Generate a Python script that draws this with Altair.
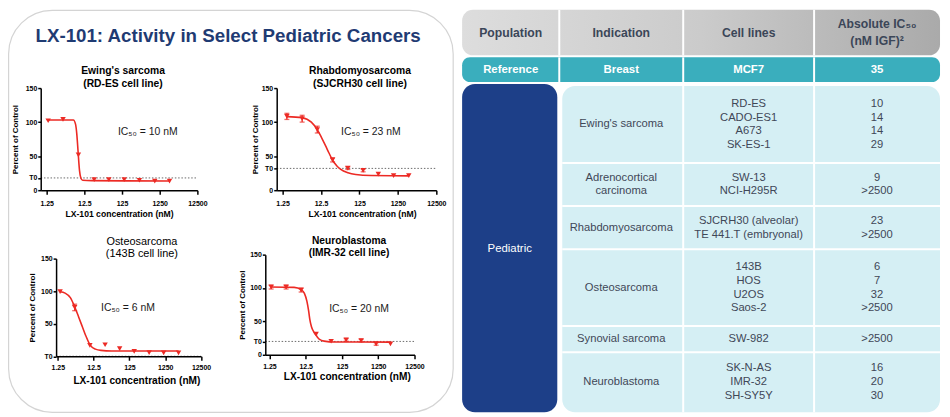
import altair as alt
import pandas as pd

# ---------------- values ----------------
x_tick_values = [1.25, 12.5, 125, 1250, 12500]
y_tick_values = [0, 50, 100, 150]

main_title = "LX-101: Activity in Select Pediatric Cancers"
x_axis_title = "LX-101 concentration (nM)"
y_axis_title = "Percent of Control"

panel_titles = ["Ewing's sarcoma", "Rhabdomyosarcoma", "Osteosarcoma", "Neuroblastoma"]
panel_cell_lines = ["(RD-ES cell line)", "(SJCRH30 cell line)", "(143B cell line)", "(IMR-32 cell line)"]
panel_ic50 = ["IC₅₀ = 10 nM", "IC₅₀ = 23 nM", "IC₅₀ = 6 nM", "IC₅₀ = 20 nM"]
panel_t0 = [18, 32, 0, 20]

ewing_conc = [1.37, 3.4, 8.7, 22.8, 56, 143, 361, 926, 2280]
ewing_resp = [102, 104, 52, 15.6, 15.6, 15.6, 14.6, 13.2, 13.2]
ewing_err = [0, 0, 0, 0, 0, 0, 0, 0, 0]
ewing_fit_conc = [1.37, 6.4, 7.3, 7.9, 8.5, 9.3, 10.1, 11.3, 20, 2280]
ewing_fit_resp = [103, 103, 97, 82, 58, 29, 18, 14.5, 14, 13.5]

rhabdo_conc = [1.62, 4.04, 10.0, 25.0, 62.3, 156, 387, 966, 2404]
rhabdo_resp = [108.4, 105, 89, 44.5, 32.4, 29, 23.7, 21.3, 21.3]
rhabdo_err = [4.5, 5, 5, 3, 2, 2, 0, 0, 0]
rhabdo_fit_conc = [1.62, 4, 7, 10, 13, 16.5, 20, 25, 32, 40, 63, 100, 250, 2404]
rhabdo_fit_resp = [108, 106.5, 100, 89, 77, 65, 55, 44, 36, 31, 25.5, 23, 21.5, 21]

osteo_conc = [1.45, 3.70, 9.84, 26.2, 66.7, 170, 444, 1129, 2942]
osteo_resp = [99.3, 75, 16.7, 17.7, 11.7, 7.6, 5.6, 5.1, 5.1]
osteo_err = [0, 5, 0, 0, 0, 0, 0, 0, 0]
osteo_fit_conc = [1.45, 2, 2.8, 3.7, 4.8, 6.1, 7.5, 9.8, 14, 20, 40, 2942]
osteo_fit_resp = [99, 97, 90, 76, 60, 45, 32, 18, 11, 9, 8.2, 8]

neuro_conc = [1.39, 3.60, 9.34, 24.2, 62.8, 163, 422, 1095, 2719]
neuro_resp = [101.5, 101.5, 97, 31, 20.3, 22.3, 21.3, 16.3, 16.3]
neuro_err = [3, 3, 3, 0, 0, 2, 2, 2, 0]
neuro_fit_conc = [1.39, 6, 9.34, 11.5, 13.5, 15, 16.2, 18, 21, 25, 30, 40, 80, 2719]
neuro_fit_resp = [101.5, 101, 97.5, 92, 80, 66, 53, 42, 34, 28, 23, 20.5, 19.2, 19]

table_header = ["Population", "Indication", "Cell lines", "Absolute IC₅₀\n(nM IGF)²"]
reference_row = ["Reference", "Breast", "MCF7", "35"]
pediatric_label = "Pediatric"
indications = ["Ewing's sarcoma", "Adrenocortical\ncarcinoma", "Rhabdomyosarcoma",
               "Osteosarcoma", "Synovial sarcoma", "Neuroblastoma"]
cell_lines = [["RD-ES", "CADO-ES1", "A673", "SK-ES-1"],
              ["SW-13", "NCI-H295R"],
              ["SJCRH30 (alveolar)", "TE 441.T (embryonal)"],
              ["143B", "HOS", "U2OS", "Saos-2"],
              ["SW-982"],
              ["SK-N-AS", "IMR-32", "SH-SY5Y"]]
ic50_values = [["10", "14", "14", "29"],
               ["9", ">2500"],
               ["23", ">2500"],
               ["6", "7", "32", ">2500"],
               [">2500"],
               ["16", "20", "30"]]

# ---------------- layout / style (not data) ----------------
W, H = 942, 409
FONT = "Arial"
RED = "#ec2a24"
NAVY = "#1f3b73"
TXT = "#3f4757"

series = [
    (ewing_conc, ewing_resp, ewing_err, ewing_fit_conc, ewing_fit_resp),
    (rhabdo_conc, rhabdo_resp, rhabdo_err, rhabdo_fit_conc, rhabdo_fit_resp),
    (osteo_conc, osteo_resp, osteo_err, osteo_fit_conc, osteo_fit_resp),
    (neuro_conc, neuro_resp, neuro_err, neuro_fit_conc, neuro_fit_resp),
]

panel_layout = [
    dict(xr=[33, 191], yr=[182, 79], dom=[0.87, 12500], tx=116, ty=62, tbold="bold", tsize=10.4,
         icx=141, icy=123, ytx=-25, xtx=112, xty=24, xts=8.7, lpad=5.2),
    dict(xr=[271, 432], yr=[182, 79], dom=[0.88, 12500], tx=355, ty=62, tbold="bold", tsize=10.4,
         icx=366, icy=123, ytx=-21, xtx=357, xty=24, xts=8.7, lpad=5.2),
    dict(xr=[48.5, 194.7], yr=[349.5, 251], dom=[1.12, 12500], tx=135, ty=234, tbold="normal", tsize=11,
         icx=121, icy=301, ytx=-24, xtx=129.5, xty=24.5, xts=10.2, lpad=3.4),
    dict(xr=[259.5, 410], yr=[348, 247], dom=[0.96, 12500], tx=344, ty=233, tbold="bold", tsize=10.3,
         icx=354, icy=302, ytx=-23, xtx=341.7, xty=22, xts=10.2, lpad=3.4),
]


def text_at(txt, x, y, size, weight="normal", color="black", align="center"):
    return alt.Chart(pd.DataFrame({"t": [txt]})).mark_text(
        font=FONT, fontSize=size, fontWeight=weight, color=color, align=align, baseline="middle"
    ).encode(x=alt.value(x), y=alt.value(y), text="t:N")


def make_panel(i):
    conc, resp, err, fc, fr = series[i]
    L = panel_layout[i]
    t0 = panel_t0[i]
    xs = alt.Scale(type="log", domain=L["dom"], range=L["xr"], nice=False)
    ys = alt.Scale(type="linear", domain=[0, 150], range=L["yr"], nice=False, zero=False)

    pts = pd.DataFrame({"c": conc, "r": resp, "e": err})
    pts["lo"] = pts["r"] - pts["e"]
    pts["hi"] = pts["r"] + pts["e"]
    errs = pts[pts["e"] > 0]
    caps = pd.concat([
        errs[["c", "lo"]].rename(columns={"lo": "v"}),
        errs[["c", "hi"]].rename(columns={"hi": "v"}),
    ])
    fit = pd.DataFrame({"c": fc, "r": fr})
    t0df = pd.DataFrame({"c0": [L["dom"][0]], "c1": [L["dom"][1]], "t": [t0]})
    yvals = sorted(set(y_tick_values + [t0]))

    common_axis = dict(domainColor="black", domainWidth=1.5, tickColor="black", tickWidth=1.5,
                       labelFont=FONT, labelFontWeight="bold", labelFontSize=7, labelColor="black",
                       titleFont=FONT, titleFontWeight="bold", titleColor="black", grid=False,
                       labelOverlap=False, labelFlush=False, titleBaseline="middle", zindex=1)
    xaxis = alt.Axis(orient="bottom", offset=L["yr"][0] - H, values=x_tick_values,
                     labelExpr="'' + datum.value", title=x_axis_title, titleFontSize=L["xts"],
                     titleX=L["xtx"], titleY=L["xty"], tickSize=4, labelPadding=L["lpad"], **common_axis)
    yaxis = alt.Axis(orient="left", offset=-L["xr"][0], values=yvals,
                     labelExpr=f"datum.value == {t0} ? 'T0' : datum.label", title=y_axis_title,
                     titleFontSize=8, titleX=L["ytx"], titleAngle=270, tickSize=3, labelPadding=1,
                     **common_axis)

    t0_rule = alt.Chart(t0df).mark_rule(color="#6a6a6a", strokeWidth=1, strokeDash=[1.5, 1.8]).encode(
        x=alt.X("c0:Q", scale=xs, axis=None), x2="c1:Q", y=alt.Y("t:Q", scale=ys, axis=None))
    curve = alt.Chart(fit).mark_line(color=RED, strokeWidth=1.6, interpolate="monotone").encode(
        x=alt.X("c:Q", scale=xs, axis=xaxis), y=alt.Y("r:Q", scale=ys, axis=yaxis))
    bars = alt.Chart(errs).mark_rule(color=RED, strokeWidth=1.3).encode(
        x=alt.X("c:Q", scale=xs, axis=None), y=alt.Y("lo:Q", scale=ys, axis=None), y2="hi:Q")
    capm = alt.Chart(caps).mark_tick(color=RED, orient="horizontal", size=5, thickness=1.3).encode(
        x=alt.X("c:Q", scale=xs, axis=None), y=alt.Y("v:Q", scale=ys, axis=None))
    marks = alt.Chart(pts).mark_point(shape="triangle-down", filled=True, size=30, color=RED, opacity=1).encode(
        x=alt.X("c:Q", scale=xs, axis=None), y=alt.Y("r:Q", scale=ys, axis=None))

    t1 = text_at(panel_titles[i], L["tx"], L["ty"], L["tsize"], L["tbold"])
    t2 = text_at(panel_cell_lines[i], L["tx"], L["ty"] + 12.8, L["tsize"], L["tbold"])
    ic = text_at(panel_ic50[i], L["icx"], L["icy"], 10.5, "normal", "#1a1a1a")
    return [t0_rule, curve, bars, capm, marks, t1, t2, ic]


# ---------------- table + frame in pixel space ----------------
px_x = alt.Scale(domain=[0, W], range=[0, W], nice=False, zero=False)
px_y = alt.Scale(domain=[0, H], range=[0, H], nice=False, zero=False)

col_edges = [458, 556, 681, 813, 940]
col_mid = [(col_edges[k] + col_edges[k + 1]) / 2 for k in range(4)]
header_y = (0, 46)
ref_y = (48, 73)
ped_x = (458, 554)
body_x = (559, 940)
body_top = 77
row_line_h, row_pad, text_line = 17, 9.5, 14

n_lines = [max(len(cl), ind.count("\n") + 1) for cl, ind in zip(cell_lines, indications)]
bounds = [body_top]
for n in n_lines:
    bounds.append(bounds[-1] + n * row_line_h + row_pad)
body_bottom = bounds[-1]


def rects(df, **mk):
    return alt.Chart(df).mark_rect(**mk).encode(
        x=alt.X("x0:Q", scale=px_x, axis=None), x2="x1:Q",
        y=alt.Y("y0:Q", scale=px_y, axis=None), y2="y1:Q")


def rules(df, **mk):
    return alt.Chart(df).mark_rule(**mk).encode(
        x=alt.X("x0:Q", scale=px_x, axis=None), x2="x1:Q",
        y=alt.Y("y0:Q", scale=px_y, axis=None), y2="y1:Q")


def texts(df, **mk):
    return alt.Chart(df).mark_text(font=FONT, baseline="middle", align="center", **mk).encode(
        x=alt.X("x:Q", scale=px_x, axis=None), y=alt.Y("y:Q", scale=px_y, axis=None), text="t:N")


frame = rects(pd.DataFrame({"x0": [0.6], "x1": [449], "y0": [0.6], "y1": [406]}),
              filled=False, stroke="#d4d4d4", strokeWidth=1.2, cornerRadius=44)

header_grad = alt.LinearGradient(
    gradient="linear", x1=0, x2=1, y1=0, y2=0,
    stops=[alt.GradientStop(color="#dddddd", offset=0), alt.GradientStop(color="#cbcbcb", offset=0.5),
           alt.GradientStop(color="#aaaaaa", offset=1)])
header_rect = rects(pd.DataFrame({"x0": [col_edges[0]], "x1": [col_edges[-1]],
                                  "y0": [header_y[0]], "y1": [header_y[1]]}),
                    fill=header_grad, cornerRadius=11)
ref_rect = rects(pd.DataFrame({"x0": [col_edges[0]], "x1": [col_edges[-1]],
                               "y0": [ref_y[0]], "y1": [ref_y[1]]}),
                 fill="#3aaebd", cornerRadius=8)
ped_rect = rects(pd.DataFrame({"x0": [ped_x[0]], "x1": [ped_x[1]],
                               "y0": [body_top - 2], "y1": [body_bottom]}),
                 fill="#1d3f88", cornerRadius=13)
body_rect = rects(pd.DataFrame({"x0": [body_x[0]], "x1": [body_x[1]],
                                "y0": [body_top], "y1": [body_bottom]}),
                  fill="#d5eff4", cornerRadius=13)

sep = []
for e in col_edges[1:4]:
    sep.append((e, e, header_y[0], header_y[1]))
    sep.append((e, e, ref_y[0], ref_y[1]))
for e in col_edges[2:4]:
    sep.append((e, e, body_top, body_bottom))
for b in bounds[1:-1]:
    sep.append((body_x[0], body_x[1], b, b))
sep_df = pd.DataFrame(sep, columns=["x0", "x1", "y0", "y1"])
separators = rules(sep_df, color="white", strokeWidth=2)

hdr_rows = []
for k, lab in enumerate(table_header):
    parts = lab.split("\n")
    mid = (header_y[0] + header_y[1]) / 2
    for j, p in enumerate(parts):
        hdr_rows.append((col_mid[k], mid + (j - (len(parts) - 1) / 2) * 17, p))
hdr_text = texts(pd.DataFrame(hdr_rows, columns=["x", "y", "t"]), fontSize=12.3, fontWeight="bold", color="#3b4658")

ref_rows = [(col_mid[k], (ref_y[0] + ref_y[1]) / 2, v) for k, v in enumerate(reference_row)]
ref_text = texts(pd.DataFrame(ref_rows, columns=["x", "y", "t"]), fontSize=11.5, fontWeight="bold", color="white")

ped_text = texts(pd.DataFrame({"x": [(ped_x[0] + ped_x[1]) / 2], "y": [(body_top + body_bottom) / 2],
                               "t": [pediatric_label]}), fontSize=11.5, color="white")

body_rows = []
for g in range(len(indications)):
    mid = (bounds[g] + bounds[g + 1]) / 2
    for k, items in ((1, indications[g].split("\n")), (2, cell_lines[g]), (3, ic50_values[g])):
        n = len(items)
        for j, it in enumerate(items):
            body_rows.append((col_mid[k], mid + (j - (n - 1) / 2) * text_line, it))
body_text = texts(pd.DataFrame(body_rows, columns=["x", "y", "t"]), fontSize=11.3, color=TXT)

title_text = texts(pd.DataFrame({"x": [222], "y": [27], "t": [main_title]}),
                   fontSize=18.9, fontWeight="bold", color=NAVY)

pixel_layers = [frame, header_rect, ref_rect, ped_rect, body_rect, separators,
                hdr_text, ref_text, ped_text, body_text, title_text]

all_layers = list(pixel_layers)
for i in range(4):
    all_layers += make_panel(i)

chart = alt.layer(*all_layers).resolve_scale(
    x="independent", y="independent"
).properties(
    width=W, height=H, autosize=alt.AutoSizeParams(type="none"), padding=0, background="white"
).configure_view(strokeWidth=0)

chart.save("out.html", embed_options={"renderer": "svg", "actions": False})
